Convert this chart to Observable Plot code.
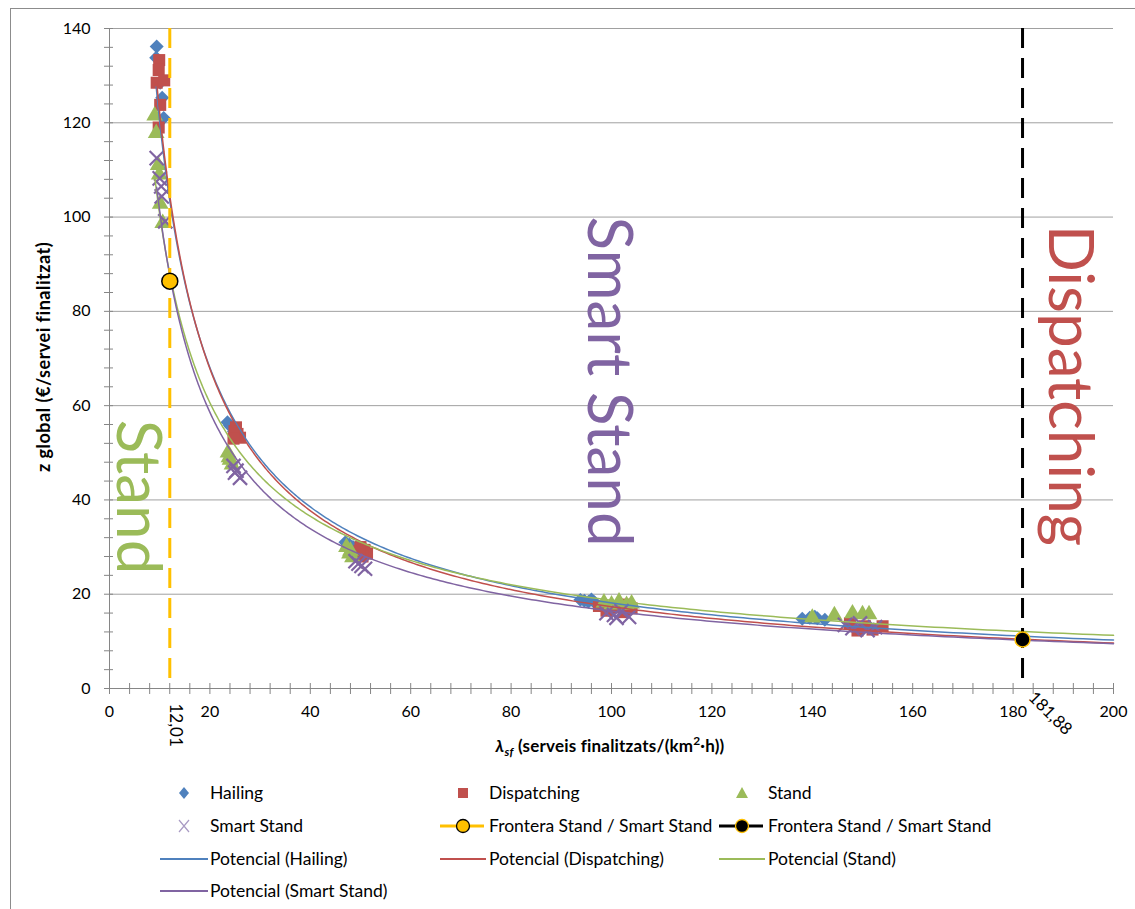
<!DOCTYPE html>
<html><head><meta charset="utf-8">
<script src="https://cdn.jsdelivr.net/npm/d3@7"></script>
<script src="https://cdn.jsdelivr.net/npm/@observablehq/plot@0.6"></script>
<style>
body{margin:0;width:1135px;height:909px;overflow:hidden;background:#fff;position:relative;font-family:Lato,"Liberation Sans",sans-serif;}
#frame{position:absolute;left:10px;top:8px;width:1300px;height:1100px;border:1.5px solid #8c8c8c;}
#chart{position:absolute;left:0;top:0;}
#legend{position:absolute;left:0;top:0;}
.ttl{position:absolute;white-space:nowrap;font-weight:bold;color:#000;line-height:1;}
sub,sup{font-size:70%;line-height:0;}
</style></head><body>
<div id="frame"></div>
<div id="chart"></div>
<svg id="legend" width="1135" height="909"></svg>
<div class="ttl" id="ytitle" style="left:43px;top:357px;font-size:18px;letter-spacing:0.5px;transform:translate(-50%,-50%) rotate(-90deg);">z global (€/servei finalitzat)</div>
<div class="ttl" id="xtitle" style="left:610px;top:745px;font-size:17px;letter-spacing:0.2px;transform:translate(-50%,-50%);"><i>λ</i><sub><i>sf</i></sub> (serveis finalitzats/(km<sup>2</sup>·h))</div>
<script>
// ---------- data ----------
const seriesNames = ["Hailing", "Dispatching", "Stand", "Smart Stand"];
const seriesColors = ["#4F81BD", "#C0504D", "#9BBB59", "#8064A2"];

const hailingX = [9.4, 9.3, 10.1, 10.5, 10.8, 23.5, 24.0, 24.2, 24.8, 25.2, 47.0, 47.8, 48.5, 49.2, 50.0, 93.8, 94.6, 95.4, 96.0, 96.6, 138.0, 139.5, 140.5, 141.0, 142.5];
const hailingY = [136.2, 133.8, 128.5, 125.3, 121.0, 56.5, 55.8, 55.5, 54.5, 53.8, 31.0, 30.5, 30.0, 29.8, 29.5, 18.8, 18.6, 18.4, 18.9, 18.3, 14.8, 15.0, 15.2, 14.9, 14.6];

const dispatchingX = [9.9, 9.8, 9.4, 10.9, 10.1, 9.8, 24.9, 25.5, 26.0, 25.2, 24.7, 50.0, 50.8, 51.3, 50.4, 49.8, 97.5, 99.0, 101.0, 102.5, 104.0, 103.0, 147.5, 149.0, 150.5, 152.0, 154.0];
const dispatchingY = [133.3, 131.2, 128.5, 129.0, 123.8, 119.0, 54.6, 54.0, 53.2, 55.4, 53.0, 30.0, 29.4, 28.6, 28.0, 29.2, 17.5, 16.5, 17.2, 16.2, 17.0, 17.8, 13.8, 12.3, 13.2, 12.5, 13.2];

const standX = [9.0, 9.3, 9.7, 9.9, 10.1, 10.6, 23.6, 24.0, 24.4, 23.8, 47.2, 47.8, 48.4, 48.0, 98.5, 100.0, 101.5, 103.0, 104.0, 140.0, 144.4, 148.0, 150.0, 151.3];
const standY = [121.5, 117.8, 111.0, 109.0, 102.8, 98.7, 50.0, 48.5, 47.5, 49.0, 30.0, 28.6, 27.8, 29.2, 18.2, 17.8, 18.4, 17.7, 18.0, 15.0, 15.5, 15.9, 15.7, 15.7];

const smartX = [9.4, 10.0, 10.3, 10.4, 11.1, 24.7, 25.3, 26.0, 25.0, 49.0, 49.6, 50.2, 50.9, 99.0, 100.5, 102.0, 103.5, 101.0, 146.5, 148.0, 149.5, 151.0, 152.5];
const smartY = [112.5, 108.2, 106.5, 104.4, 99.1, 47.2, 46.2, 44.7, 45.8, 27.0, 26.5, 26.0, 25.4, 16.0, 15.6, 16.4, 15.2, 15.0, 13.5, 12.8, 13.8, 12.4, 13.0];

const frontierX = [12.01, 181.88];
const frontierY = [86.4, 10.4];
const frontierLabels = ["12,01", "181,88"];

const zoneLabels = ["Stand", "Smart Stand", "Dispatching"];
const zoneX = [5.5, 99.2, 191.1];
const zoneY = [40.6, 65.1, 64.3];
const zoneColors = ["#9BBB59", "#8064A2", "#C0504D"];

const xMajor = [0, 20, 40, 60, 80, 100, 120, 140, 160, 180, 200];
const yMajor = [0, 20, 40, 60, 80, 100, 120, 140];
const xMinor = d3.range(0, 201, 4);
const yMinor = d3.range(0, 141, 4);

// ---------- helpers ----------
const pts = (xs, ys) => xs.map((x, i) => ({x, y: ys[i]}));
// Excel "Potencial" trendline: least squares fit of ln y on ln x
function powerTrend(xs, ys, xEnd) {
  const lx = xs.map(Math.log), ly = ys.map(Math.log);
  const mx = d3.mean(lx), my = d3.mean(ly);
  const b = d3.sum(lx, (v, i) => (v - mx) * (ly[i] - my)) / d3.sum(lx, v => (v - mx) ** 2);
  const a = Math.exp(my - b * mx);
  const x0 = d3.min(xs);
  return d3.range(0, 301).map(i => x0 * Math.pow(xEnd / x0, i / 300)).map(x => ({x, y: a * Math.pow(x, b)}));
}

const hailing = pts(hailingX, hailingY);
const dispatching = pts(dispatchingX, dispatchingY);
const stand = pts(standX, standY);
const smart = pts(smartX, smartY);
const frontier = pts(frontierX, frontierY).map((d, i) => ({...d, label: frontierLabels[i]}));
const zones = zoneLabels.map((t, i) => ({text: t, x: zoneX[i], y: zoneY[i], color: zoneColors[i]}));

const [cH, cD, cS, cSS] = seriesColors;
const H = 770;

const chart = Plot.plot({
  width: 1135, height: H,
  marginLeft: 109, marginRight: 22, marginTop: 28, marginBottom: H - 688,
  x: {domain: [0, 200]},
  y: {domain: [0, 140]},
  style: {fontFamily: "Lato, sans-serif", fontSize: "16px", color: "#000", background: "transparent", overflow: "visible"},
  marks: [
    Plot.gridY(yMajor.filter(d => d > 0), {stroke: "#a0a0a0", strokeOpacity: 1}),
    Plot.ruleX([0], {stroke: "#868686"}),
    Plot.ruleY([0], {stroke: "#868686"}),
    Plot.axisY({ticks: yMinor, tickSize: 9, dx: 4, tickFormat: () => "", stroke: "#868686", label: null}),
    Plot.axisY({ticks: yMajor, tickSize: 0, tickPadding: 19, label: null, fill: "#000"}),
    Plot.axisX({ticks: xMinor, tickSize: 11, dy: -5, tickFormat: () => "", stroke: "#868686", label: null}),
    Plot.axisX({ticks: xMajor, tickSize: 0, tickPadding: 17, label: null, fill: "#000"}),
    Plot.text(zones, {x: "x", y: "y", text: "text", fill: "color", rotate: 90, fontSize: 62}),
    Plot.dot(hailing, {x: "x", y: "y", symbol: "diamond2", fill: cH, r: 6.3}),
    Plot.dot(dispatching, {x: "x", y: "y", symbol: "square", fill: cD, r: 6.8}),
    Plot.dot(stand, {x: "x", y: "y", symbol: "triangle", fill: cS, r: 6.2}),
    Plot.dot(smart, {x: "x", y: "y", symbol: "times", stroke: cSS, strokeWidth: 2.2, r: 6.5}),
    Plot.line(powerTrend(hailingX, hailingY, 200), {x: "x", y: "y", stroke: cH, strokeWidth: 1.5}),
    Plot.line(powerTrend(dispatchingX, dispatchingY, 200), {x: "x", y: "y", stroke: cD, strokeWidth: 1.5}),
    Plot.line(powerTrend(standX, standY, 200), {x: "x", y: "y", stroke: cS, strokeWidth: 1.5}),
    Plot.line(powerTrend(smartX, smartY, 200), {x: "x", y: "y", stroke: cSS, strokeWidth: 1.5}),
    Plot.ruleX([frontier[0]], {x: "x", stroke: "#FFC000", strokeWidth: 3, strokeDasharray: "20,10"}),
    Plot.ruleX([frontier[1]], {x: "x", stroke: "#000", strokeWidth: 3, strokeDasharray: "20,10"}),
    Plot.dot([frontier[0]], {x: "x", y: "y", r: 8, fill: "#FFC000", stroke: "#000", strokeWidth: 1.5}),
    Plot.dot([frontier[1]], {x: "x", y: "y", r: 7.5, fill: "#000", stroke: "#FFC000", strokeWidth: 1.5}),
    Plot.text([frontier[0]], {x: "x", text: "label", frameAnchor: "bottom", rotate: 90, textAnchor: "start", dy: 15, fontSize: 17, fill: "#000"}),
    Plot.text([frontier[1]], {x: "x", text: "label", frameAnchor: "bottom", rotate: 45, textAnchor: "start", dx: 5, dy: 10, fontSize: 17, fill: "#000"})
  ]
});
document.getElementById("chart").append(chart);

// ---------- legend ----------
const legendItems = [
  {label: "Hailing", kind: "diamond", color: cH, col: 0, row: 0},
  {label: "Dispatching", kind: "square", color: cD, col: 1, row: 0},
  {label: "Stand", kind: "triangle", color: cS, col: 2, row: 0},
  {label: "Smart Stand", kind: "times", color: "#a99bc4", col: 0, row: 1},
  {label: "Frontera Stand / Smart Stand", kind: "front", color: "#FFC000", dot: "#FFC000", dotStroke: "#000", col: 1, row: 1},
  {label: "Frontera Stand / Smart Stand", kind: "front", color: "#000", dot: "#000", dotStroke: "#FFC000", col: 2, row: 1},
  {label: "Potencial (Hailing)", kind: "line", color: cH, col: 0, row: 2},
  {label: "Potencial (Dispatching)", kind: "line", color: cD, col: 1, row: 2},
  {label: "Potencial (Stand)", kind: "line", color: cS, col: 2, row: 2},
  {label: "Potencial (Smart Stand)", kind: "line", color: cSS, col: 0, row: 3}
];
const colLine = [[160, 208], [440, 486], [719, 765]];
const colText = [210, 489, 768];
const rowY = [793, 826, 859, 891];
const lg = d3.select("#legend");
for (const it of legendItems) {
  const [l0, l1] = colLine[it.col];
  const cx = (l0 + l1) / 2, cy = rowY[it.row];
  const g = lg.append("g");
  if (it.kind === "diamond") g.append("path").attr("d", `M${cx},${cy-6}L${cx+5},${cy}L${cx},${cy+6}L${cx-5},${cy}Z`).attr("fill", it.color);
  if (it.kind === "square") g.append("rect").attr("x", cx - 5).attr("y", cy - 5).attr("width", 10).attr("height", 10).attr("fill", it.color);
  if (it.kind === "triangle") g.append("path").attr("d", `M${cx},${cy-6}L${cx+6},${cy+5}L${cx-6},${cy+5}Z`).attr("fill", it.color);
  if (it.kind === "times") g.append("path").attr("d", `M${cx-5},${cy-6}L${cx+5},${cy+6}M${cx+5},${cy-6}L${cx-5},${cy+6}`).attr("stroke", it.color).attr("stroke-width", 1.2);
  if (it.kind === "line") g.append("line").attr("x1", l0).attr("x2", l1).attr("y1", cy).attr("y2", cy).attr("stroke", it.color).attr("stroke-width", 2);
  if (it.kind === "front") {
    g.append("line").attr("x1", l0).attr("x2", l1).attr("y1", cy).attr("y2", cy).attr("stroke", it.color).attr("stroke-width", 3).attr("stroke-dasharray", "18,8");
    g.append("circle").attr("cx", cx).attr("cy", cy).attr("r", 6.5).attr("fill", it.dot).attr("stroke", it.dotStroke).attr("stroke-width", 1.3);
  }
  lg.append("text").attr("x", colText[it.col]).attr("y", cy).attr("dy", "0.35em")
    .attr("font-size", 17.5).attr("font-family", "Lato, sans-serif").attr("fill", "#000").text(it.label);
}
</script>
</body></html>
